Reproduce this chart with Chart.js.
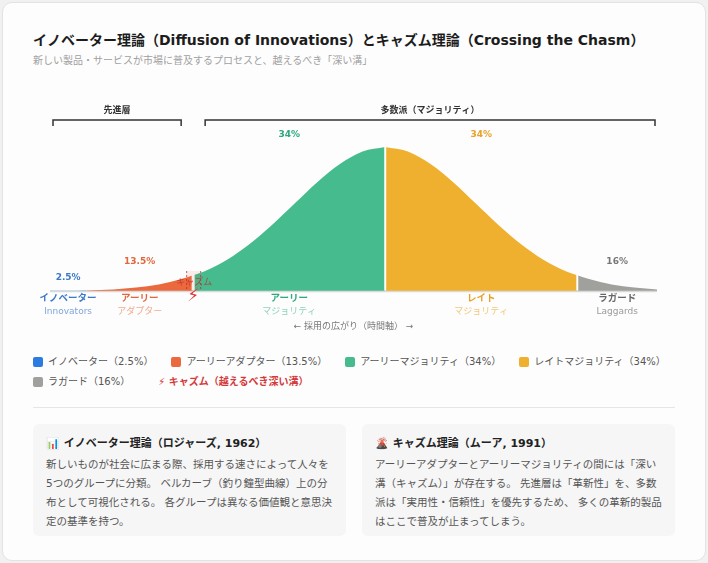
<!DOCTYPE html>
<html lang="ja">
<head>
<meta charset="utf-8">
<script src="https://cdn.jsdelivr.net/npm/chart.js@4.4.1/dist/chart.umd.min.js"></script>
<style>
  html, body { margin: 0; padding: 0; }
  body { position: relative; width: 708px; height: 563px; background: #f1f1f1; overflow: hidden;
         font-family: "DejaVu Sans", "Noto Sans CJK JP", sans-serif; }
  .card { position: absolute; left: 2px; top: 2px; width: 704px; height: 559px; box-sizing: border-box;
          background: #fdfdfd; border: 1px solid #e3e3e3; border-radius: 10px; }
  h1 { position: absolute; left: 33px; top: 29px; margin: 0; font-size: 14px; line-height: 22px;
       font-weight: 700; color: #1c1c1c; white-space: nowrap; }
  .sub { position: absolute; left: 33px; top: 53px; font-size: 10px; line-height: 16px; color: #a0a0a0; }
  #chart { position: absolute; left: 33px; top: 95px; }
  .legend { position: absolute; left: 33px; top: 354px; width: 642px; display: flex; flex-wrap: wrap;
            column-gap: 18px; row-gap: 4px; font-size: 10px; line-height: 16px; color: #555; }
  .legend span.item { display: flex; align-items: center; }
  .legend i { display: inline-block; width: 10px; height: 10px; border-radius: 2px; margin-right: 5px; }
  .legend .chasm { color: #d43a3a; font-weight: 700; margin-left: 10px; }
  .rule { position: absolute; left: 33px; top: 407px; width: 642px; height: 1px; background: #e6e6e6; }
  .box { position: absolute; top: 424px; width: 313px; height: 112px; box-sizing: border-box;
         background: #f6f6f6; border-radius: 6px; padding: 11px 11px 9px 13px; }
  .box h3 { margin: 0 0 2px; font-size: 11px; line-height: 18px; font-weight: 700; color: #222; }
  .box p { margin: 0; font-size: 10.5px; line-height: 19px; color: #555; }
</style>
</head>
<body>
<div class="card"></div>
<h1>イノベーター理論（Diffusion of Innovations）とキャズム理論（Crossing the Chasm）</h1>
<div class="sub">新しい製品・サービスが市場に普及するプロセスと、越えるべき「深い溝」</div>
<canvas id="chart" width="642" height="245"></canvas>
<div class="legend" id="legend"></div>
<div class="rule"></div>
<div class="box" style="left:33px">
  <h3>📊 イノベーター理論（ロジャーズ, 1962）</h3>
  <p>新しいものが社会に広まる際、採用する速さによって人々を5つのグループに分類。 ベルカーブ（釣り鐘型曲線）上の分布として可視化される。 各グループは異なる価値観と意思決定の基準を持つ。</p>
</div>
<div class="box" style="left:362px">
  <h3>🌋 キャズム理論（ムーア, 1991）</h3>
  <p>アーリーアダプターとアーリーマジョリティの間には「深い溝（キャズム）」が存在する。 先進層は「革新性」を、多数派は「実用性・信頼性」を優先するため、 多くの革新的製品はここで普及が止まってしまう。</p>
</div>
<script>
// segments of the bell curve
const segments = ['イノベーター', 'アーリーアダプター', 'アーリーマジョリティ', 'レイトマジョリティ', 'ラガード'];
const shares = [2.5, 13.5, 34, 34, 16];
const labelTop = ['イノベーター', 'アーリー', 'アーリー', 'レイト', 'ラガード'];
const labelSub = ['Innovators', 'アダプター', 'マジョリティ', 'マジョリティ', 'Laggards'];
const bounds = [-3.7, -3.3, -2.12, 0, 2.12, 3.0];
const groups = ['先進層', '多数派（マジョリティ）'];

// curve heights (peak = 100)
const innovatorsX = [-3.7, -3.5, -3.3];
const innovatorsY = [0.1, 0.2, 0.4];
const earlyAdoptersX = [-3.3, -3.0, -2.75, -2.5, -2.25, -2.12];
const earlyAdoptersY = [0.4, 1.1, 2.4, 4.6, 8.3, 11.0];
const earlyMajorityX = [-2.12, -2.0, -1.75, -1.5, -1.25, -1.0, -0.75, -0.5, -0.25, 0];
const earlyMajorityY = [11.0, 13.6, 21.6, 32.5, 45.8, 60.7, 75.5, 88.2, 96.9, 100];
const lateMajorityX = [0, 0.25, 0.5, 0.75, 1.0, 1.25, 1.5, 1.75, 2.0, 2.12];
const lateMajorityY = [100, 96.9, 88.2, 75.5, 60.7, 45.8, 32.5, 21.6, 13.6, 11.0];
const laggardsX = [2.12, 2.25, 2.5, 2.75, 3.0];
const laggardsY = [11.0, 8.3, 4.6, 2.4, 1.0];

const fills = ['#2c7be0', '#ea6a3e', '#46bb8e', '#f0b02f', '#a0a09c'];
const strong = ['#3a78c8', '#e0683c', '#2ea77c', '#e8a22a', '#666666'];
const soft = ['#7fa6da', '#f2a88c', '#8fd3b7', '#f1c778', '#9a9a9a'];

const seriesX = [innovatorsX, earlyAdoptersX, earlyMajorityX, lateMajorityX, laggardsX];
const seriesY = [innovatorsY, earlyAdoptersY, earlyMajorityY, lateMajorityY, laggardsY];

const FONT = '"DejaVu Sans", "Noto Sans CJK JP", sans-serif';

const overlay = {
  id: 'overlay',
  afterDatasetsDraw(chart) {
    const { ctx, chartArea, scales: { x, y } } = chart;
    const px = v => x.getPixelForValue(v);
    const base = y.getPixelForValue(0);
    ctx.save();

    // baseline
    ctx.strokeStyle = '#d9d9d9';
    ctx.lineWidth = 1.5;
    ctx.beginPath();
    ctx.moveTo(px(bounds[0]), base + 0.5);
    ctx.lineTo(px(bounds[5]), base + 0.5);
    ctx.stroke();

    // white gaps between majority segments
    ctx.strokeStyle = '#fdfdfd';
    ctx.lineWidth = 2;
    [bounds[3], bounds[4]].forEach(b => {
      ctx.beginPath();
      ctx.moveTo(px(b), base - 0.5);
      ctx.lineTo(px(b), chartArea.top - 4);
      ctx.stroke();
    });

    // chasm
    const cx = px(bounds[2]);
    ctx.strokeStyle = '#fdfdfd';
    ctx.lineWidth = 3;
    ctx.beginPath();
    ctx.moveTo(cx, base - 0.5);
    ctx.lineTo(cx, base - 30);
    ctx.stroke();
    ctx.fillStyle = 'rgba(231, 76, 60, 0.10)';
    ctx.fillRect(cx - 7, base - 20, 14, 20);
    ctx.strokeStyle = 'rgba(200, 40, 40, 0.75)';
    ctx.lineWidth = 1;
    ctx.setLineDash([2, 2]);
    [cx - 7, cx + 7].forEach(lx => {
      ctx.beginPath();
      ctx.moveTo(lx + 0.5, base - 20);
      ctx.lineTo(lx + 0.5, base);
      ctx.stroke();
    });
    ctx.setLineDash([]);
    ctx.textAlign = 'center';
    ctx.textBaseline = 'middle';
    ctx.fillStyle = 'rgba(192, 40, 40, 0.75)';
    ctx.font = '9px ' + FONT;
    ctx.fillText('キャズム', cx + 1, base - 8);
    ctx.fillStyle = '#e03131';
    ctx.font = '17px "DejaVu Sans"';
    ctx.fillText('⚡', cx, base + 6);

    // shares above each segment
    const top = y.getPixelForValue(100);
    const shareY = [base - 13, base - 29, top - 12, top - 12, base - 29];
    ctx.font = 'bold 9px ' + FONT;
    shares.forEach((s, i) => {
      const mid = (px(bounds[i]) + px(bounds[i + 1])) / 2;
      ctx.fillStyle = i === 4 ? '#777' : strong[i];
      ctx.fillText(s + '%', mid, shareY[i]);
    });

    // segment names under the curve
    labelTop.forEach((t, i) => {
      const mid = (px(bounds[i]) + px(bounds[i + 1])) / 2;
      ctx.fillStyle = strong[i];
      ctx.font = 'bold 9.5px ' + FONT;
      ctx.fillText(t, mid, base + 8);
      ctx.fillStyle = soft[i];
      ctx.font = '9px ' + FONT;
      ctx.fillText(labelSub[i], mid, base + 21);
    });

    // axis caption
    ctx.fillStyle = '#777';
    ctx.font = '9px ' + FONT;
    ctx.fillText('← 採用の広がり（時間軸） →', (chartArea.left + chartArea.right) / 2, base + 36);

    // group brackets
    const by = chartArea.top - 27;
    const spans = [[px(bounds[0]) + 3, cx - 12], [cx + 12, px(bounds[5]) - 2]];
    ctx.strokeStyle = '#333';
    ctx.lineWidth = 1.5;
    spans.forEach(([a, b], i) => {
      ctx.beginPath();
      ctx.moveTo(a, by + 6);
      ctx.lineTo(a, by);
      ctx.lineTo(b, by);
      ctx.lineTo(b, by + 6);
      ctx.stroke();
      ctx.fillStyle = '#333';
      ctx.font = 'bold 9px ' + FONT;
      ctx.fillText(groups[i], (a + b) / 2, by - 9);
    });
    ctx.restore();
  }
};

new Chart(document.getElementById('chart'), {
  type: 'line',
  data: {
    datasets: segments.map((name, i) => ({
      label: name,
      data: seriesX[i].map((v, j) => ({ x: v, y: seriesY[i][j] })),
      backgroundColor: fills[i],
      borderWidth: 0,
      fill: 'origin',
      pointRadius: 0,
      cubicInterpolationMode: 'monotone'
    }))
  },
  options: {
    responsive: false,
    animation: false,
    layout: { padding: { left: 17, right: 18, top: 52, bottom: 49 } },
    plugins: { legend: { display: false }, tooltip: { enabled: false } },
    scales: {
      x: { type: 'linear', min: bounds[0], max: bounds[5], display: false },
      y: { min: 0, max: 100, display: false }
    }
  },
  plugins: [overlay]
});

// html legend
const legend = document.getElementById('legend');
segments.forEach((name, i) => {
  const el = document.createElement('span');
  el.className = 'item';
  el.innerHTML = '<i style="background:' + fills[i] + '"></i>' + name + '（' + shares[i] + '%）';
  legend.appendChild(el);
});
const chasm = document.createElement('span');
chasm.className = 'item chasm';
chasm.textContent = '⚡ キャズム（越えるべき深い溝）';
legend.appendChild(chasm);
</script>
</body>
</html>
